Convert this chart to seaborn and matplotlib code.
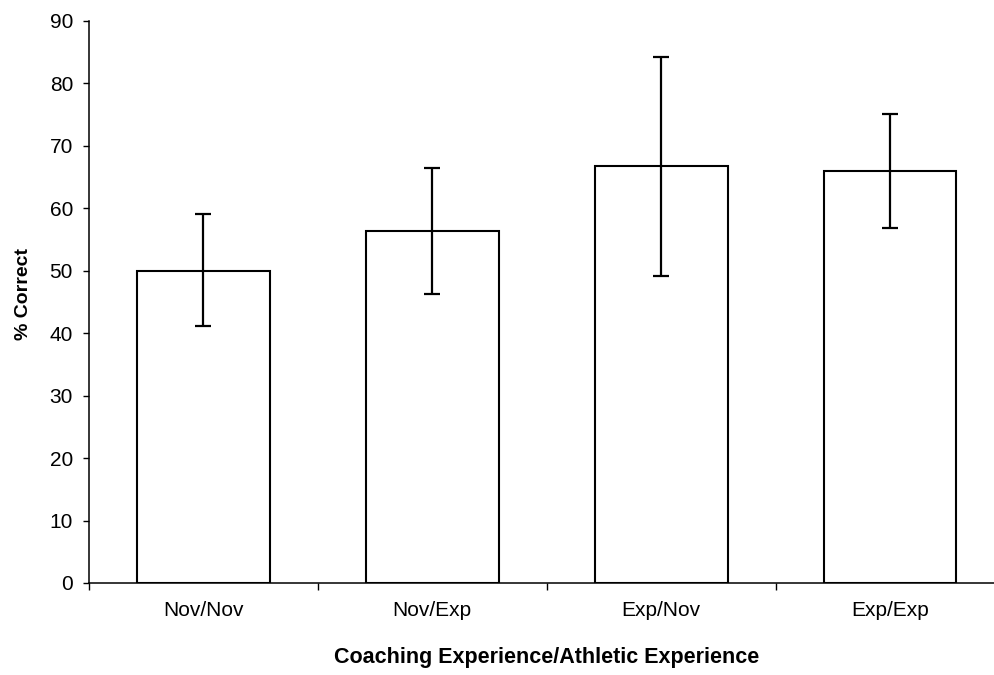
import matplotlib
matplotlib.use("Agg")
import matplotlib.pyplot as plt
import seaborn as sns
import pandas as pd
import numpy as np

categories = ["Nov/Nov", "Nov/Exp", "Exp/Nov", "Exp/Exp"]
means = [50.0, 56.4, 66.8, 66.0]
err_low = [41.2, 46.3, 49.1, 56.9]
err_high = [59.1, 66.5, 84.2, 75.1]
y_ticks = list(range(0, 91, 10))
x_label = "Coaching Experience/Athletic Experience"
y_label = "% Correct"

sns.set_theme(style="ticks")
plt.rcParams["font.family"] = ["Liberation Sans", "DejaVu Sans"]

fig = plt.figure(figsize=(9.95, 6.75), dpi=100)
ax = fig.add_axes([89 / 995, 92 / 675, 915.5 / 995, 562 / 675])

df = pd.DataFrame({"group": categories, "pct": means})
sns.barplot(data=df, x="group", y="pct", order=categories, color="white",
            saturation=1, edgecolor="black", linewidth=1.5, width=0.58,
            errorbar=None, ax=ax)
for p in ax.patches:
    p.set_facecolor("white")

yerr = [np.subtract(means, err_low), np.subtract(err_high, means)]
ax.errorbar(x=np.arange(len(categories)), y=means, yerr=yerr, fmt="none",
            ecolor="black", elinewidth=1.6, capsize=5.8, capthick=1.6, zorder=3)

ax.set_ylim(0, 90)
ax.set_yticks(y_ticks)
ax.set_xlim(-0.5, len(categories) - 0.5)
ax.set_xticks(np.arange(len(categories)) - 0.5, minor=True)

ax.tick_params(axis="x", which="major", length=0, pad=13, labelsize=15, colors="black")
ax.tick_params(axis="x", which="minor", length=5, width=1, direction="out", color="black")
ax.tick_params(axis="y", length=4.5, width=1, pad=7, labelsize=15, colors="black")

sns.despine(ax=ax)
for s in ["left", "bottom"]:
    ax.spines[s].set_linewidth(1.1)
    ax.spines[s].set_color("black")

ax.set_xlabel(x_label, fontsize=15.5, fontweight="bold", color="black")
ax.xaxis.set_label_coords(0.5, (583 - 657) / 562)
ax.xaxis.label.set_va("center")
ax.set_ylabel(y_label, fontsize=14, fontweight="bold", color="black")
ax.yaxis.set_label_coords((23 - 89) / 915.5, (583 - 294) / 562)
ax.yaxis.label.set_va("center")

fig.savefig("out.png", dpi=100, facecolor="white")
